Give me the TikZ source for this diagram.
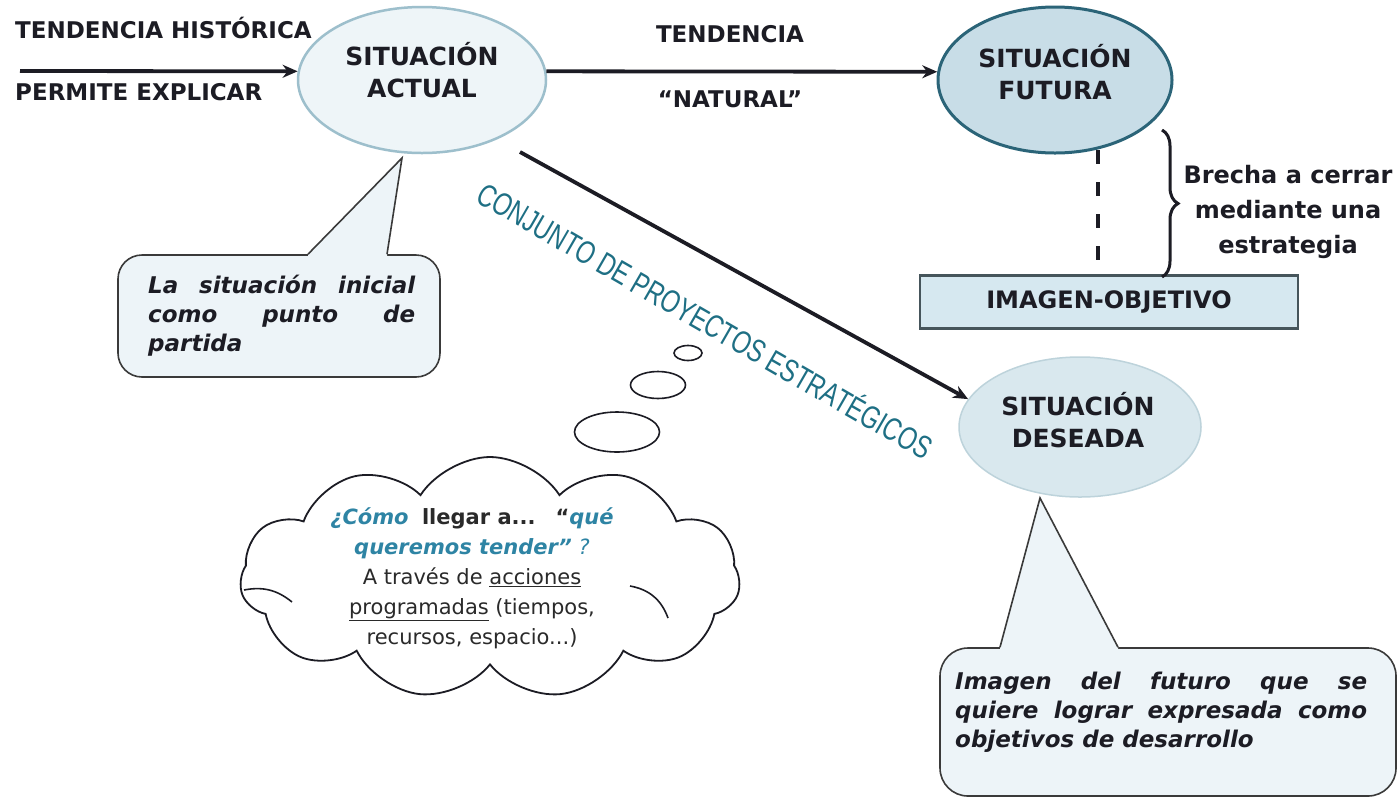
\documentclass[tikz,border=0pt]{standalone}
\usepackage{fontspec}
\setmainfont{DejaVu Sans}
\newfontfamily\narrowsans{Liberation Sans}
\usetikzlibrary{calc,shapes.geometric,shapes.symbols,arrows.meta,decorations.pathreplacing}
\definecolor{inkdark}{HTML}{1C1C24}
\definecolor{tealtxt}{HTML}{1E6F84}
\definecolor{tealit}{HTML}{2E84A4}
\definecolor{actfill}{HTML}{EEF5F8}
\definecolor{actline}{HTML}{9DBFCC}
\definecolor{futfill}{HTML}{C8DDE7}
\definecolor{futline}{HTML}{2B6478}
\definecolor{desfill}{HTML}{D9E8EE}
\definecolor{desline}{HTML}{BDD3DB}
\definecolor{boxfill}{HTML}{D6E8F0}
\definecolor{boxline}{HTML}{46555B}
\definecolor{callfill}{HTML}{EDF4F8}
\definecolor{callline}{HTML}{3A3A3A}
\definecolor{graytxt}{HTML}{2A2A2A}
\tikzset{
 lbl/.style={font=\bfseries\fontsize{23}{28}\selectfont, text=inkdark, inner sep=0pt},
 sit/.style={ellipse, minimum width=248pt, minimum height=146pt, inner sep=0pt},
 sittxt/.style={align=center, inner sep=0pt, font=\bfseries\fontsize{25}{32}\selectfont, text=inkdark},
 conn/.style={line width=3.8pt, draw=inkdark, -{Stealth[length=15pt,width=13pt]}},
 callbox/.style={draw=callline, fill=callfill, line width=1.6pt, rounded corners=24pt},
 callptr/.style={draw=callline, line width=1.6pt},
 calltxt/.style={font=\bfseries\itshape\fontsize{23}{29}\selectfont, text=inkdark, inner sep=0pt, align=left},
 bubble/.style={ellipse, draw=inkdark, line width=1.6pt, fill=white, inner sep=0pt},
 innerarc/.style={draw=inkdark, line width=1.6pt},
}
\begin{document}
\begin{tikzpicture}[x=1pt,y=-1pt]
\path[fill=white,use as bounding box] (0,0) rectangle (1399,804);

% ellipses
\node[sit, fill=actfill, draw=actline, line width=2.5pt] (actual) at (422,80) {};
\node[sittxt] (actualtxt) at (422,70) {SITUACIÓN\\ACTUAL};
\node[sit, fill=futfill, draw=futline, line width=3pt, minimum width=234pt] (futura) at (1055,80) {};
\node[sittxt] (futuratxt) at (1055,72) {SITUACIÓN\\FUTURA};
\node[sit, fill=desfill, draw=desline, line width=1.5pt, minimum width=242pt, minimum height=140pt] (deseada) at (1080,427) {};
\node[sittxt] (deseadatxt) at (1078,420) {SITUACIÓN\\DESEADA};

% top labels
\node[lbl, anchor=base west] (th) at (15,38) {TENDENCIA HISTÓRICA};
\node[lbl, anchor=base west] (pe) at (15,100) {PERMITE EXPLICAR};
\node[lbl, anchor=base] (tend) at (730,42) {TENDENCIA};
\node[lbl, anchor=base] (nat) at (730,107) {“NATURAL”};

% horizontal arrows
\coordinate (hstart) at (20,71);
\draw[conn] (hstart) -- (actual.176);
\draw[conn] (actual.4) -- (futura.176);

% imagen objetivo
\node[draw=boxline, fill=boxfill, line width=2.5pt, minimum width=378pt, minimum height=53pt,
      font=\bfseries\fontsize{24}{28}\selectfont, text=inkdark] (imagen) at (1109,302) {IMAGEN-OBJETIVO};

% dashed gap line and brace
\coordinate (dashtop) at (1098,150);
\draw[line width=3.5pt, draw=inkdark, dash pattern=on 14pt off 18pt] (dashtop) -- (dashtop |- imagen.north);
\coordinate (bracetop) at (1162,130);
\coordinate (bracebot) at (1162,277);
\draw[decorate, decoration={brace, amplitude=16pt}, line width=3pt, draw=inkdark] (bracetop) -- (bracebot);
\node[align=center, font=\bfseries\fontsize{24}{35}\selectfont, text=inkdark] (brecha) at (1288,212)
  {Brecha a cerrar\\mediante una\\estrategia};

% diagonal arrow and label
\coordinate (dstart) at (520,152);
\draw[conn] (dstart) -- (deseada.166);
\node[rotate=-30, text=tealtxt, inner sep=0pt, font=\narrowsans\fontsize{32}{32}\selectfont] (conj) at (706,319)
  {\scalebox{0.745}[1]{CONJUNTO DE PROYECTOS ESTRATÉGICOS}};

% callout 1
\node[callbox, minimum width=322pt, minimum height=122pt] (call1) at (279,316) {};
\coordinate (c1a) at ($(call1.north)+(29,0)$);
\coordinate (c1b) at ($(call1.north)+(108,0)$);
\coordinate (c1tip) at (402,158);
\fill[callfill] ($(c1a)+(0,3)$) -- (c1a) -- (c1tip) -- (c1b) -- ($(c1b)+(0,3)$) -- cycle;
\draw[callptr, line join=miter] (c1a) -- (c1tip) -- (c1b);
\node[calltxt, anchor=north west] (call1txt) at (148,275)
  {\makebox[267pt][s]{La situación inicial}\\\makebox[267pt][s]{como punto de}\\partida};

% callout 2
\node[callbox, rounded corners=28pt, minimum width=456pt, minimum height=148pt] (call2) at (1168,722) {};
\coordinate (c2a) at ($(call2.north)+(-168,0)$);
\coordinate (c2b) at ($(call2.north)+(-50,0)$);
\coordinate (c2tip) at (1040,498);
\fill[callfill] ($(c2a)+(0,3)$) -- (c2a) -- (c2tip) -- (c2b) -- ($(c2b)+(0,3)$) -- cycle;
\draw[callptr, line join=miter] (c2a) -- (c2tip) -- (c2b);
\node[calltxt, anchor=north west] (call2txt) at (955,672)
  {\makebox[412pt][s]{Imagen del futuro que se}\\\makebox[412pt][s]{quiere lograr expresada como}\\objetivos de desarrollo};

% thought bubbles and cloud
\node[bubble, minimum width=28pt, minimum height=15pt] (bub1) at (688,353) {};
\node[bubble, minimum width=55pt, minimum height=27pt] (bub2) at (658,385) {};
\node[bubble, minimum width=85pt, minimum height=40pt] (bub3) at (617,432) {};
\node[cloud, cloud puffs=11, cloud puff arc=115, cloud ignores aspect, minimum width=500pt, minimum height=242pt,
      draw=inkdark, line width=1.8pt, fill=white] (cloud) at (490,578) {};
% interior strokes of the cloud
\draw[innerarc] ($(cloud.center)+(-246,12)$) to[bend left=25] ($(cloud.center)+(-198,24)$);
\draw[innerarc] ($(cloud.center)+(140,8)$) to[bend left=30] ($(cloud.center)+(178,40)$);
\node[align=center, inner sep=0pt, text=graytxt, font=\fontsize{21}{30}\selectfont] (cloudtxt) at (472,578)
  {{\color{tealit}\bfseries\itshape ¿Cómo}\ \ {\bfseries llegar a...}\ \ \ {\bfseries “}{\color{tealit}\bfseries\itshape qué}\\
   {\color{tealit}\bfseries\itshape queremos tender”}\ {\color{tealit}\itshape ?}\\
   A través de \underline{acciones}\\
   \underline{programadas} (tiempos,\\
   recursos, espacio...)};
\end{tikzpicture}
\end{document}
